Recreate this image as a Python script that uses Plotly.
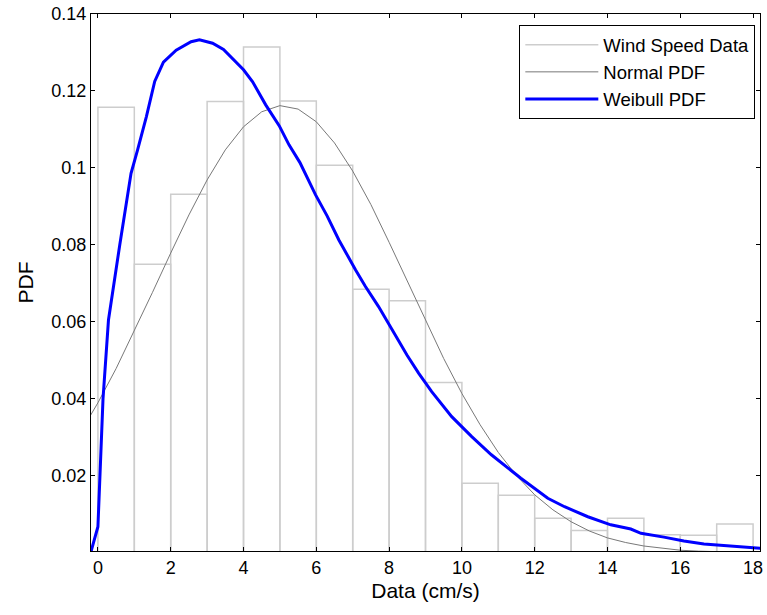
import plotly.graph_objects as go

# histogram of wind speed data (bin edges 0..18, width 1)
bin_centers = [0.5, 1.5, 2.5, 3.5, 4.5, 5.5, 6.5, 7.5, 8.5,
               9.5, 10.5, 11.5, 12.5, 13.5, 14.5, 15.5, 16.5, 17.5]
bin_heights = [0.1158, 0.0750, 0.0932, 0.1173, 0.1314, 0.1174, 0.1007, 0.0685, 0.0655,
               0.0443, 0.0181, 0.0150, 0.0090, 0.0058, 0.0090, 0.0047, 0.0046, 0.0075]

# normal PDF fit
normal_x = [-0.2, 0, 0.5, 1, 1.5, 2, 2.5, 3, 3.5, 4, 4.5, 5, 5.5, 6, 6.5, 7, 7.5, 8, 8.5,
            9, 9.5, 10, 10.5, 11, 11.5, 12, 12.5, 13, 13.5, 14, 14.5, 15, 15.5, 16,
            16.5, 17, 17.5, 18, 18.2]
normal_y = [0.0358, 0.0390, 0.0479, 0.0576, 0.0677, 0.0779, 0.0878, 0.0969, 0.1047,
            0.1107, 0.1146, 0.1162, 0.1153, 0.1120, 0.1065, 0.0992, 0.0905, 0.0807,
            0.0705, 0.0603, 0.0505, 0.0414, 0.0333, 0.0261, 0.0201, 0.0151, 0.0112,
            0.0081, 0.0057, 0.0039, 0.0027, 0.0018, 0.0012, 0.0007, 0.00046, 0.00028,
            0.00016, 0.00009, 0.00007]

# weibull PDF fit
weibull_x = [-0.2, 0.0, 0.14, 0.29, 0.6, 0.91, 1.09, 1.33, 1.56, 1.8, 2.15, 2.56,
             2.79, 3.15, 3.45, 3.7, 4.0, 4.25, 4.61, 4.98, 5.25, 5.55, 5.98, 6.3, 6.62,
             7.08, 7.35, 7.71, 8.08, 8.49, 8.81, 9.17, 9.72, 10.27, 10.81, 11.36, 11.62,
             12.36, 12.82, 13.46, 14.09, 14.64, 14.92, 15.55, 16.1, 16.65, 17.38, 18.2]
weibull_y = [0.0, 0.0068, 0.0400, 0.0605, 0.0800, 0.0986, 0.1047, 0.1133, 0.1225,
             0.1275, 0.1306, 0.1328, 0.1333, 0.1324, 0.1308, 0.1285, 0.1255, 0.1224,
             0.1164, 0.1110, 0.1060, 0.1014, 0.0930, 0.0875, 0.0813, 0.0735, 0.0692,
             0.0640, 0.0579, 0.0514, 0.0467, 0.0419, 0.0354, 0.0302, 0.0255, 0.0213,
             0.0194, 0.0142, 0.0120, 0.0094, 0.0073, 0.0062, 0.0051, 0.0041, 0.0031,
             0.0023, 0.0018, 0.0012]

x_ticks = [0, 2, 4, 6, 8, 10, 12, 14, 16, 18]
y_ticks = [0.02, 0.04, 0.06, 0.08, 0.1, 0.12, 0.14]
y_tick_labels = ["0.02", "0.04", "0.06", "0.08", "0.1", "0.12", "0.14"]

FONT = "Liberation Sans, Arial, sans-serif"
HIST_COLOR = "rgb(205,205,205)"

fig = go.Figure()

# histogram bars (white face, light grey edges)
fig.add_trace(go.Bar(
    x=bin_centers, y=bin_heights, width=1,
    marker=dict(color="rgba(255,255,255,0)", line=dict(color=HIST_COLOR, width=1.5)),
    showlegend=False, hoverinfo="skip"
))
# legend entry for the histogram drawn as a line, like matlab
fig.add_trace(go.Scatter(
    x=[None], y=[None], mode="lines", name="Wind Speed Data",
    line=dict(color=HIST_COLOR, width=1.5)
))
fig.add_trace(go.Scatter(
    x=normal_x, y=normal_y, mode="lines", name="Normal PDF",
    line=dict(color="rgb(120,120,120)", width=1)
))
fig.add_trace(go.Scatter(
    x=weibull_x, y=weibull_y, mode="lines", name="Weibull PDF",
    line=dict(color="#0000ff", width=3)
))

axis_common = dict(
    showline=True, linecolor="black", linewidth=1, mirror="allticks",
    ticks="inside", ticklen=4, tickcolor="black", tickwidth=1,
    showgrid=False, zeroline=False,
    tickfont=dict(family=FONT, size=18, color="black"),
)

fig.update_xaxes(
    range=[-0.19, 18.19], tickvals=x_ticks,
    title=dict(text="Data (cm/s)", font=dict(family=FONT, size=21, color="black"), standoff=6),
    **axis_common
)
fig.update_yaxes(
    range=[0.0005, 0.14], tickvals=y_ticks, ticktext=y_tick_labels,
    title=dict(text="PDF", font=dict(family=FONT, size=21, color="black"), standoff=12),
    **axis_common
)

fig.update_layout(
    width=767, height=615,
    margin=dict(l=91, r=4, t=12, b=64),
    plot_bgcolor="white", paper_bgcolor="white",
    font=dict(family=FONT, color="black"),
    barmode="overlay",
    legend=dict(
        x=0.993, y=0.979, xanchor="right", yanchor="top",
        bgcolor="white", bordercolor="black", borderwidth=1,
        font=dict(family=FONT, size=18.5, color="black"),
        itemwidth=73, tracegroupgap=0,
    ),
)

# drop the default page margin so the figure sits at the window's corner
fig.write_html("out.html", config={"displayModeBar": False},
               post_script="document.body.style.margin='0px';")
